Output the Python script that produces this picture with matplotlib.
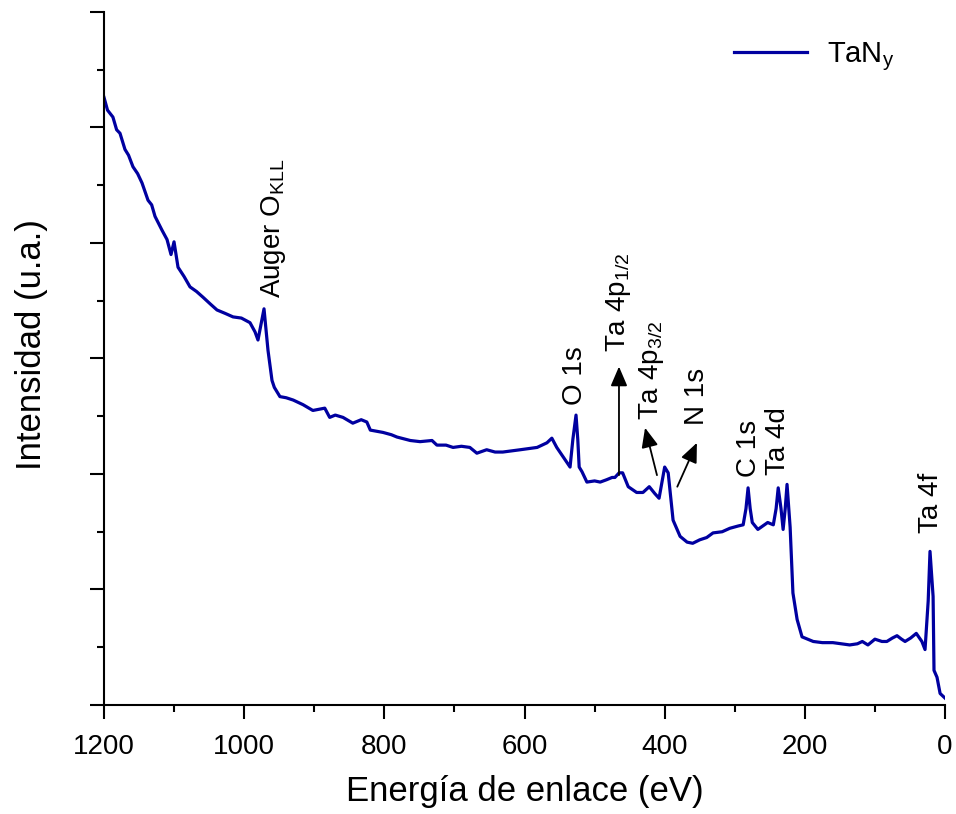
import matplotlib
matplotlib.use("Agg")
import matplotlib.pyplot as plt
from matplotlib.ticker import MultipleLocator, NullFormatter

plt.rcParams["font.family"] = ["Liberation Sans", "DejaVu Sans"]
plt.rcParams["mathtext.default"] = "regular"

# XPS survey spectrum of the TaNy film (binding energy in eV, intensity in a.u.)
energy = [
    1200, 1195.0, 1187.3, 1182.0, 1177.2, 1170.1, 1165.0, 1158.7, 1152.0, 1145.8,
    1137.2, 1132.0, 1127.2, 1117.2, 1110.1, 1104.4, 1100.1, 1094.4, 1085.8, 1077.3,
    1068.0, 1058.7, 1048.0, 1038.8, 1027.0, 1015.9, 1004.0, 991.7, 984.5, 980.3,
    971.7, 966.0, 960.3, 957.0, 949.0, 940.0, 930.0, 916.0, 902.0, 885.0,
    878.0, 870.0, 859.0, 845.0, 833.0, 825.0, 820.0, 802.0, 790.0, 782.0,
    763.0, 749.0, 732.0, 725.0, 712.0, 702.0, 690.0, 678.0, 668.0, 654.0,
    642.0, 631.0, 618.0, 606.0, 594.0, 582.0, 568.0, 561.0, 554.0, 545.0,
    535.0, 531.0, 526.5, 524.0, 522.0, 518.0, 511.0, 500.0, 492.0, 483.0,
    475.0, 471.0, 465.0, 460.0, 452.0, 440.0, 431.0, 422.0, 414.0, 408.0,
    400.0, 395.0, 388.0, 378.0, 368.0, 360.0, 350.0, 340.0, 331.0, 318.0,
    307.0, 295.0, 288.0, 284.0, 281.0, 278.0, 275.0, 267.0, 260.0, 253.0,
    245.0, 241.0, 238.0, 234.0, 231.0, 228.0, 225.4, 221.0, 217.0, 211.0,
    204.0, 188.0, 175.0, 160.0, 148.0, 136.0, 125.0, 118.0, 110.0, 100.0,
    90.0, 83.0, 75.0, 68.5, 62.0, 57.0, 49.0, 41.0, 33.0, 28.5,
    24.0, 21.4, 17.0, 15.7, 11.4, 7.0, 0.0,
]
intensity = [
    5.26, 5.15, 5.09, 4.98, 4.95, 4.81, 4.76, 4.66, 4.60, 4.52,
    4.37, 4.33, 4.23, 4.11, 4.03, 3.90, 4.01, 3.79, 3.71, 3.62,
    3.58, 3.53, 3.47, 3.42, 3.39, 3.36, 3.35, 3.31, 3.23, 3.16,
    3.43, 3.07, 2.81, 2.75, 2.67, 2.66, 2.64, 2.60, 2.55, 2.57,
    2.49, 2.51, 2.49, 2.44, 2.47, 2.45, 2.38, 2.36, 2.34, 2.32,
    2.29, 2.28, 2.29, 2.25, 2.25, 2.23, 2.24, 2.23, 2.18, 2.21,
    2.19, 2.19, 2.20, 2.21, 2.22, 2.23, 2.27, 2.31, 2.23, 2.15,
    2.06, 2.30, 2.51, 2.30, 2.06, 2.02, 1.93, 1.94, 1.93, 1.95,
    1.97, 1.97, 2.01, 2.01, 1.89, 1.84, 1.84, 1.89, 1.83, 1.79,
    2.06, 2.01, 1.60, 1.46, 1.41, 1.40, 1.43, 1.45, 1.49, 1.50,
    1.53, 1.55, 1.56, 1.70, 1.88, 1.70, 1.58, 1.52, 1.55, 1.58,
    1.56, 1.70, 1.88, 1.70, 1.52, 1.70, 1.91, 1.54, 0.97, 0.74,
    0.59, 0.55, 0.54, 0.54, 0.53, 0.52, 0.53, 0.55, 0.52, 0.57,
    0.55, 0.55, 0.58, 0.60, 0.57, 0.55, 0.58, 0.62, 0.55, 0.48,
    0.90, 1.33, 0.94, 0.30, 0.24, 0.10, 0.06,
]

# peak labels: text, energy position, bottom of the label
peak_labels = ["Auger O$_{KLL}$", "O 1s", "Ta 4p$_{1/2}$", "Ta 4p$_{3/2}$",
               "N 1s", "C 1s", "Ta 4d", "Ta 4f"]
peak_label_x = [958, 528, 466, 419, 354, 280, 238, 20]
peak_label_y = [3.52, 2.60, 3.06, 2.47, 2.42, 1.97, 1.99, 1.49]

# arrows pointing from the spectrum to the Ta 4p / N 1s labels
arrow_start = [(465.2, 1.99), (411.0, 1.99), (382.0, 1.89)]
arrow_end = [(465.2, 2.93), (428.0, 2.40), (354.0, 2.27)]

fig = plt.figure(figsize=(9.56, 8.14), dpi=100)
ax = fig.add_axes([0.1088, 0.1339, 0.8797, 0.8514])

ax.plot(energy, intensity, color="#0000a0", linewidth=2.3, label="TaN$_y$")

for text, x, y in zip(peak_labels, peak_label_x, peak_label_y):
    ax.text(x, y, text, rotation=90, ha="center", va="bottom", fontsize=20)

for (x0, y0), (x1, y1) in zip(arrow_start, arrow_end):
    ax.annotate("", xy=(x1, y1), xytext=(x0, y0),
                arrowprops=dict(arrowstyle="-|>,head_length=0.7,head_width=0.3",
                                color="black", lw=1.3, mutation_scale=17,
                                shrinkA=0, shrinkB=0))

ax.set_xlim(1200, 0)
ax.set_ylim(0, 6)
ax.xaxis.set_major_locator(MultipleLocator(200))
ax.xaxis.set_minor_locator(MultipleLocator(100))
ax.yaxis.set_major_locator(MultipleLocator(1))
ax.yaxis.set_minor_locator(MultipleLocator(0.5))
ax.yaxis.set_major_formatter(NullFormatter())

for side in ["top", "right"]:
    ax.spines[side].set_visible(False)
for side in ["left", "bottom"]:
    ax.spines[side].set_linewidth(1.5)

ax.tick_params(axis="both", which="major", direction="out", length=10, width=1.5,
               labelsize=20, pad=11)
ax.tick_params(axis="both", which="minor", direction="out", length=5, width=1.5)

ax.set_xlabel("Energía de enlace (eV)", fontsize=25, labelpad=11)
ax.set_ylabel("Intensidad (u.a.)", fontsize=25)
ax.yaxis.set_label_coords(-0.067, 0.52)

ax.legend(loc="center left", bbox_to_anchor=(0.749, 0.935), frameon=False,
          fontsize=21, handlelength=2.5, handletextpad=0.7,
          borderpad=0, borderaxespad=0)

fig.savefig("out.png", dpi=100)
